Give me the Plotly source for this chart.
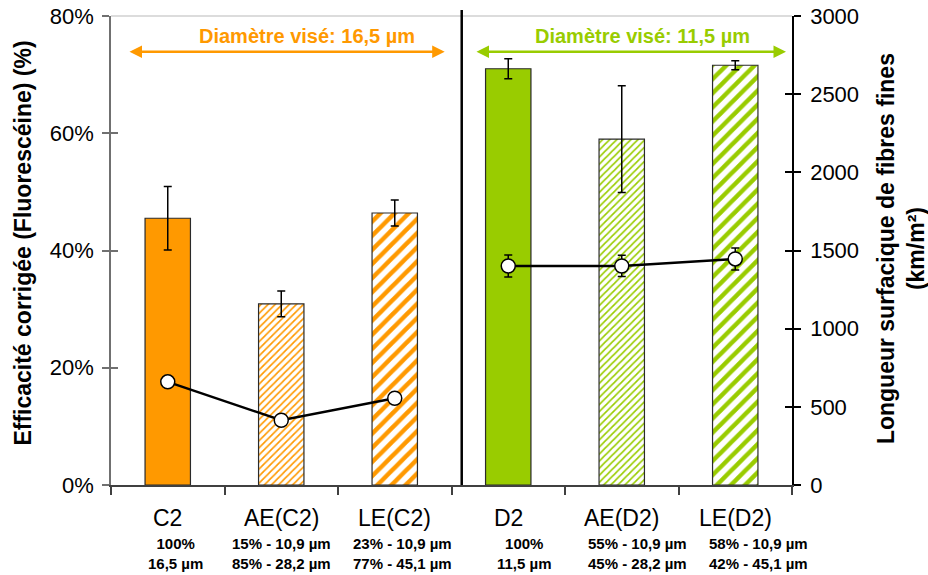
import plotly.graph_objects as go

# ---------------- data ----------------
categories = ["C2", "AE(C2)", "LE(C2)", "D2", "AE(D2)", "LE(D2)"]
efficacite = [45.5, 30.9, 46.4, 71.0, 59.0, 71.6]          # % (left axis)
efficacite_err = [5.4, 2.2, 2.2, 1.7, 9.1, 0.75]
longueur = [660, 414, 555, 1401, 1401, 1446]               # km/m² (right axis)
longueur_err = [0, 0, 0, 70, 68, 70]
sub_line1 = ["100%", "15% - 10,9 µm", "23% - 10,9 µm", "100%", "55% - 10,9 µm", "58% - 10,9 µm"]
sub_line2 = ["16,5 µm", "85% - 28,2 µm", "77% - 45,1 µm", "11,5 µm", "45% - 28,2 µm", "42% - 45,1 µm"]
group_left = [0, 1, 2]
group_right = [3, 4, 5]
left_ticks = [0, 20, 40, 60, 80]
left_tick_text = ["0%", "20%", "40%", "60%", "80%"]
right_ticks = [0, 500, 1000, 1500, 2000, 2500, 3000]

# ---------------- style ----------------
ORANGE = "#FF9900"
GREEN = "#99CC00"
bar_colors = [ORANGE, ORANGE, ORANGE, GREEN, GREEN, GREEN]
pattern_shapes = ["", "/", "/", "", "/", "/"]
pattern_sizes = [8, 5, 10, 8, 5, 10]
pattern_solid = [1, 0.33, 0.45, 1, 0.33, 0.45]
sub_xshift = [8, 0, 8, 16, 16, 23]
FONT = "Arial, Liberation Sans, sans-serif"

fig = go.Figure()

fig.add_trace(go.Bar(
    x=categories, y=efficacite,
    marker=dict(
        color=bar_colors,
        line=dict(color="#2a2a2a", width=1.2),
        pattern=dict(shape=pattern_shapes, fgcolor=bar_colors,
                     bgcolor="white", size=pattern_sizes,
                     solidity=pattern_solid, fillmode="replace"),
    ),
    error_y=dict(type="data", array=efficacite_err, color="black",
                 thickness=1.5, width=4),
    yaxis="y", hoverinfo="skip",
))

for grp in (group_left, group_right):
    fig.add_trace(go.Scatter(
        x=[categories[i] for i in grp], y=[longueur[i] for i in grp],
        mode="lines+markers",
        line=dict(color="black", width=2.5),
        marker=dict(size=14, color="white", line=dict(color="black", width=1.5)),
        error_y=dict(type="data", array=[longueur_err[i] for i in grp],
                     color="black", thickness=1.5, width=4),
        yaxis="y2", hoverinfo="skip",
    ))

# empty traces to carry the inside-tick overlay axes
fig.add_trace(go.Scatter(x=[], y=[], yaxis="y3", showlegend=False))
fig.add_trace(go.Scatter(x=[], y=[], yaxis="y4", showlegend=False))

tickfont = dict(family=FONT, size=22, color="black")

fig.update_layout(
    width=928, height=575,
    margin=dict(l=111, r=136, t=16, b=90, autoexpand=False),
    plot_bgcolor="white", paper_bgcolor="white",
    showlegend=False, bargap=0.6,
    xaxis=dict(type="category", range=[-0.5, 5.5], tickson="boundaries",
               ticks="outside", ticklen=8, tickwidth=1.5, tickcolor="#404040",
               showline=True, linecolor="#404040", linewidth=1.5, automargin=False,
               showticklabels=False, showgrid=False, zeroline=False),
    yaxis=dict(range=[0, 80], tickvals=left_ticks, ticktext=left_tick_text,
               ticks="outside", ticklen=7, tickwidth=1.5, tickcolor="#707070",
               ticklabelstandoff=4,
               showline=True, linecolor="#707070", linewidth=1.5, automargin=False,
               showgrid=False, zeroline=False, tickfont=tickfont),
    yaxis2=dict(range=[0, 3000], tickvals=right_ticks, overlaying="y", side="right",
                ticks="outside", ticklen=7, tickwidth=1.5, tickcolor="black",
                ticklabelstandoff=5,
                showline=True, linecolor="black", linewidth=1.5, automargin=False,
                showgrid=False, zeroline=False, tickfont=tickfont),
    yaxis3=dict(range=[0, 80], tickvals=left_ticks, overlaying="y", side="left",
                ticks="inside", ticklen=7, tickwidth=1.5, tickcolor="#707070", automargin=False,
                showticklabels=False, showline=False, showgrid=False, zeroline=False),
    yaxis4=dict(range=[0, 3000], tickvals=right_ticks, overlaying="y", side="right",
                ticks="inside", ticklen=7, tickwidth=1.5, tickcolor="black", automargin=False,
                showticklabels=False, showline=False, showgrid=False, zeroline=False),
)

shapes = [
    # top border line of the plot area
    dict(type="line", xref="paper", yref="paper", x0=0, x1=1, y0=1, y1=1,
         line=dict(color="#d0d0d0", width=1.5)),
    # separator between the two groups
    dict(type="line", xref="x", yref="paper", x0=2.59, x1=2.59, y0=0, y1=1.013,
         line=dict(color="black", width=2.5)),
]
fig.update_layout(shapes=shapes)

annotations = []
# double arrows
for (x0, x1, col, label, xt) in [(-0.35, 2.44, ORANGE, "Diamètre visé: 16,5 µm", 1.23),
                                 (2.707, 5.447, GREEN, "Diamètre visé: 11,5 µm", 4.18)]:
    annotations.append(dict(x=x1, y=73.9, ax=x0, ay=73.9, xref="x", yref="y",
                            axref="x", ayref="y", text="", showarrow=True,
                            arrowhead=2, startarrowhead=2, arrowside="end+start",
                            arrowsize=1, startarrowsize=1, arrowwidth=2.5, arrowcolor=col))
    annotations.append(dict(x=xt, y=76.6, xref="x", yref="y", text=f"<b>{label}</b>",
                            showarrow=False, font=dict(family=FONT, size=20, color=col)))

# category labels and composition sub-labels
for i, cat in enumerate(categories):
    annotations.append(dict(x=i, y=-0.0704, xref="x", yref="paper", text=cat,
                            showarrow=False, xanchor="center", yanchor="middle",
                            font=dict(family=FONT, size=23, color="black")))
    annotations.append(dict(x=i, y=-0.147, xref="x", yref="paper", xshift=sub_xshift[i],
                            text=f"<b>{sub_line1[i]}<br>{sub_line2[i]}</b>",
                            showarrow=False, xanchor="center", yanchor="middle",
                            font=dict(family=FONT, size=15, color="black")))

# axis titles
annotations.append(dict(x=-0.129, y=0.515, xref="paper", yref="paper",
                        xanchor="center", yanchor="middle",
                        text="<b>Efficacité corrigée (Fluorescéine) (%)</b>",
                        textangle=-90, showarrow=False,
                        font=dict(family=FONT, size=23, color="black")))
annotations.append(dict(x=1.160, y=0.505, xref="paper", yref="paper",
                        xanchor="center", yanchor="middle",
                        text="<b>Longueur surfacique de fibres fines<br>(km/m²)</b>",
                        textangle=-90, showarrow=False,
                        font=dict(family=FONT, size=23, color="black")))
fig.update_layout(annotations=annotations)

fig.write_html("out.html", config={"displayModeBar": False},
               post_script="document.body.style.margin='0px';document.body.style.overflow='hidden';")
